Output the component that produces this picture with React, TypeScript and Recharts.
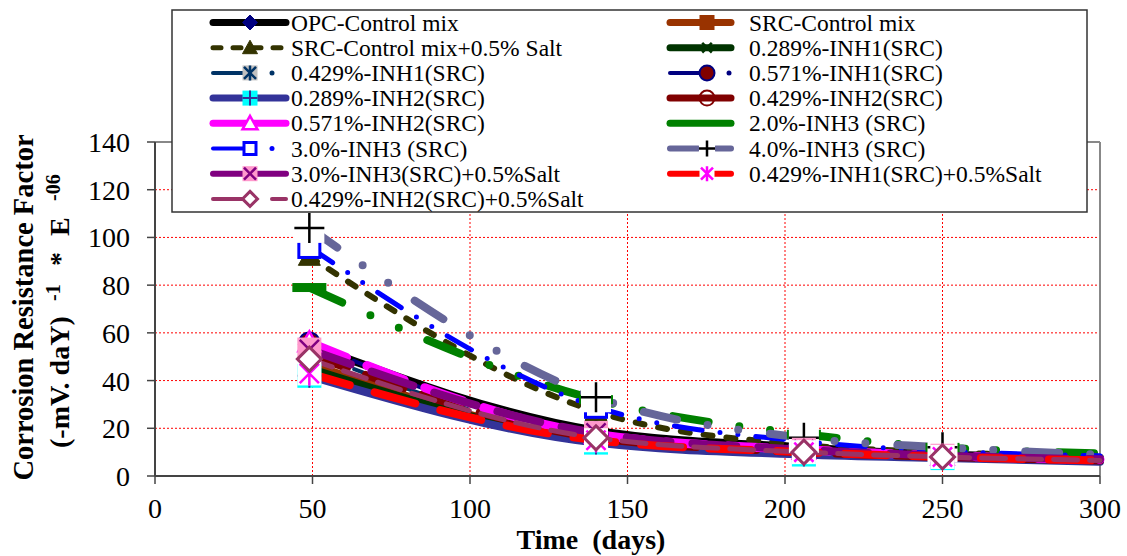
import React from 'react';
import { LineChart, Line, XAxis, YAxis, CartesianGrid, ReferenceLine } from 'recharts';

const FONT = '"Liberation Serif", "Times New Roman", serif';

// Sampling times (days); the last entry closes the curves at the axis end without a marker
const days = [49, 140, 206, 250, 300];
const xTicks = [0, 50, 100, 150, 200, 250, 300];
const yTicks = [0, 20, 40, 60, 80, 100, 120, 140];

// Corrosion resistance factor for each mix
const opcControl = [55, 19, 12, 9, 7.5];
const srcControl = [47, 15, 10, 8, 6.5];
const srcControlSalt = [92, 27, 13, 10, 8];
const inh1p289 = [45, 15, 10, 8, 6.5];
const inh1p429 = [52, 16, 10.5, 8.5, 7];
const inh1p571 = [56, 17, 11, 8.5, 7];
const inh2p289 = [42, 14, 9, 7.5, 6];
const inh2p429 = [51, 16, 10, 8, 6.5];
const inh2p571 = [56, 17.5, 11, 8.5, 7];
const inh3p20 = [79, 32, 17.5, 12, 9.5];
const inh3p30 = [96, 29, 14.5, 10.5, 8.5];
const inh3p40 = [104, 33, 16, 12, 9];
const inh3p30Salt = [53, 18, 11, 8.5, 7];
const inh1p429Salt = [43, 15, 10, 8, 6.5];
const inh2p429Salt = [49, 16, 10, 8, 6.5];

type LegendKind = 'solid' | 'dashdot' | 'dash' | 'gap' | 'dashes';

interface SeriesDef {
  key: string;
  name: string;
  values: number[];
  color: string;
  width: number;
  dash?: string;
  marker: string;
  size: number;
  legend: LegendKind;
  legendWidth: number;
}

const series: SeriesDef[] = [
  { key: 'opc', name: 'OPC-Control mix', values: opcControl, color: '#000000', width: 8, marker: 'diamondNavy', size: 22, legend: 'solid', legendWidth: 7 },
  { key: 'src', name: 'SRC-Control mix', values: srcControl, color: '#993300', width: 8, marker: 'squareBrown', size: 22, legend: 'solid', legendWidth: 7 },
  { key: 'srcSalt', name: 'SRC-Control mix+0.5% Salt', values: srcControlSalt, color: '#333300', width: 6, dash: '9 14', marker: 'triangleDark', size: 22, legend: 'dashes', legendWidth: 5 },
  { key: 'i1a', name: '0.289%-INH1(SRC)', values: inh1p289, color: '#003300', width: 8, marker: 'crossGreen', size: 20, legend: 'solid', legendWidth: 7 },
  { key: 'i1b', name: '0.429%-INH1(SRC)', values: inh1p429, color: '#003366', width: 4, dash: '24 12 0 12', marker: 'starSquare', size: 22, legend: 'dashdot', legendWidth: 4 },
  { key: 'i1c', name: '0.571%-INH1(SRC)', values: inh1p571, color: '#000080', width: 4, dash: '24 12 0 12', marker: 'circleRed', size: 20, legend: 'dashdot', legendWidth: 4 },
  { key: 'i2a', name: '0.289%-INH2(SRC)', values: inh2p289, color: '#333399', width: 8, marker: 'plusCyan', size: 24, legend: 'solid', legendWidth: 7 },
  { key: 'i2b', name: '0.429%-INH2(SRC)', values: inh2p429, color: '#800000', width: 8, dash: '40 20', marker: 'circleOpen', size: 20, legend: 'solid', legendWidth: 7 },
  { key: 'i2c', name: '0.571%-INH2(SRC)', values: inh2p571, color: '#ff00ff', width: 9, dash: '40 22', marker: 'triangleMagenta', size: 22, legend: 'solid', legendWidth: 7 },
  { key: 'i3a', name: '2.0%-INH3 (SRC)', values: inh3p20, color: '#008000', width: 8, dash: '36 31 0 31 0 31', marker: 'dashGreen', size: 34, legend: 'solid', legendWidth: 7 },
  { key: 'i3b', name: '3.0%-INH3 (SRC)', values: inh3p30, color: '#0000ff', width: 5, dash: '28 18 0 18 0 18', marker: 'squareOpen', size: 24, legend: 'dashdot', legendWidth: 4 },
  { key: 'i3c', name: '4.0%-INH3 (SRC)', values: inh3p40, color: '#666699', width: 8, dash: '34 31 0 31 0 32', marker: 'plusBlack', size: 30, legend: 'gap', legendWidth: 6 },
  { key: 'i3s', name: '3.0%-INH3(SRC)+0.5%Salt', values: inh3p30Salt, color: '#800080', width: 8, dash: '44 22', marker: 'xPink', size: 24, legend: 'solid', legendWidth: 6 },
  { key: 'i1s', name: '0.429%-INH1(SRC)+0.5%Salt', values: inh1p429Salt, color: '#ff0000', width: 8, dash: '42 26', marker: 'asterisk', size: 24, legend: 'solid', legendWidth: 6 },
  { key: 'i2s', name: '0.429%-INH2(SRC)+0.5%Salt', values: inh2p429Salt, color: '#993366', width: 5, dash: '24 12', marker: 'diamondOpen', size: 24, legend: 'dash', legendWidth: 4 },
];

const rows = days.map((d, i) => {
  const r: Record<string, number> = { day: d };
  series.forEach((s) => {
    r[s.key] = s.values[i];
  });
  return r;
});

function Marker({ kind, cx, cy, size }: { kind: string; cx: number; cy: number; size: number }) {
  const h = size / 2;
  const sq = (fill: string, stroke = 'none', sw = 0) => (
    <rect x={cx - h} y={cy - h} width={size} height={size} fill={fill} stroke={stroke} strokeWidth={sw} />
  );
  const diamond = `${cx},${cy - h} ${cx + h},${cy} ${cx},${cy + h} ${cx - h},${cy}`;
  const tri = `${cx},${cy - h} ${cx + h},${cy + h * 0.8} ${cx - h},${cy + h * 0.8}`;
  const k = h * 0.8;
  const xPath = `M${cx - k},${cy - k}L${cx + k},${cy + k}M${cx + k},${cy - k}L${cx - k},${cy + k}`;
  const plusPath = `M${cx - h},${cy}L${cx + h},${cy}M${cx},${cy - h}L${cx},${cy + h}`;
  switch (kind) {
    case 'diamondNavy':
      return <polygon points={diamond} fill="#000080" stroke="#000080" strokeWidth={1} />;
    case 'squareBrown':
      return sq('#993300');
    case 'triangleDark':
      return <polygon points={tri} fill="#333300" stroke="#333300" strokeWidth={1} />;
    case 'crossGreen':
      return <path d={xPath} stroke="#003300" strokeWidth={2.5} fill="none" />;
    case 'starSquare':
      return (
        <g>
          {sq('#c0c0c0')}
          <path d={`${xPath}M${cx},${cy - h}L${cx},${cy + h}`} stroke="#003366" strokeWidth={2.5} fill="none" />
        </g>
      );
    case 'circleRed':
      return <circle cx={cx} cy={cy} r={h} fill="#800000" stroke="#000080" strokeWidth={2} />;
    case 'plusCyan':
      return (
        <g>
          {sq('#00ffff')}
          <path d={plusPath} stroke="#333399" strokeWidth={2} fill="none" />
        </g>
      );
    case 'circleOpen':
      return <circle cx={cx} cy={cy} r={h} fill="none" stroke="#800000" strokeWidth={2} />;
    case 'triangleMagenta':
      return <polygon points={tri} fill="#ffffff" stroke="#ff00ff" strokeWidth={2.5} />;
    case 'dashGreen':
      return <rect x={cx - h} y={cy - 4.5} width={size} height={9} fill="#008000" />;
    case 'squareOpen':
      return <rect x={cx - h + 1.5} y={cy - h + 1.5} width={size - 3} height={size - 3} fill="#ffffff" stroke="#0000ff" strokeWidth={3} />;
    case 'plusBlack':
      return (
        <g>
          {sq('#ffffff')}
          <path d={plusPath} stroke="#000000" strokeWidth={2.5} fill="none" />
        </g>
      );
    case 'xPink':
      return (
        <g>
          {sq('#ff99cc')}
          <path d={xPath} stroke="#800080" strokeWidth={2.5} fill="none" />
        </g>
      );
    case 'asterisk':
      return (
        <g>
          {sq('#ffffff')}
          <path d={`${xPath}M${cx},${cy - h}L${cx},${cy + h}`} stroke="#ff00ff" strokeWidth={2.5} fill="none" />
        </g>
      );
    case 'diamondOpen':
      return <polygon points={diamond} fill="#ffffff" stroke="#993366" strokeWidth={3} />;
    default:
      return null;
  }
}

const lastIndex = days.length - 1;

const makeDot = (s: SeriesDef) => (p: any) => {
  if (p.cx == null || p.cy == null || p.index === lastIndex) return <g key={`${s.key}-${p.index}`} />;
  return (
    <g key={`${s.key}-${p.index}`}>
      <Marker kind={s.marker} cx={p.cx} cy={p.cy} size={s.size} />
    </g>
  );
};

// Legend geometry: two columns, rows ordered left-to-right
const LEG = {
  left: { start: 213, end: 286, mark: 250, text: 291 },
  right: { start: 670, end: 731, mark: 707, text: 749 },
};
const rowY = (r: number) => 22.5 + 25.2 * r;

function LegendIcon({ s, col, y }: { s: SeriesDef; col: 'left' | 'right'; y: number }) {
  const g = LEG[col];
  const lw = s.legendWidth;
  const line = (x1: number, x2: number, dash?: string) => (
    <line x1={x1} y1={y} x2={x2} y2={y} stroke={s.color} strokeWidth={lw} strokeLinecap="round" strokeDasharray={dash} />
  );
  let parts: React.ReactNode = null;
  if (s.legend === 'solid') parts = line(g.start, g.end);
  else if (s.legend === 'dashes') parts = line(g.start, g.end, '8 12');
  else if (s.legend === 'dashdot')
    parts = (
      <g>
        {line(g.start, g.mark)}
        <circle cx={g.mark + 22} cy={y} r={lw / 2 + 0.5} fill={s.color} />
      </g>
    );
  else if (s.legend === 'dash')
    parts = (
      <g>
        {line(g.start, g.mark)}
        {line(g.mark + 22, g.end)}
      </g>
    );
  else if (s.legend === 'gap')
    parts = (
      <g>
        {line(g.start, g.mark - 9)}
        {line(g.mark + 9, g.end)}
      </g>
    );
  const showMarker = s.marker !== 'dashGreen';
  const mSize = s.marker === 'plusBlack' ? 16 : s.marker === 'crossGreen' ? 12 : 15;
  return (
    <g>
      {parts}
      {showMarker && <Marker kind={s.marker} cx={g.mark} cy={y} size={mSize} />}
    </g>
  );
}

function LegendBox() {
  return (
    <svg width={1127} height={556} style={{ position: 'absolute', left: 0, top: 0, pointerEvents: 'none' }}>
      <rect x={172} y={10} width={915} height={202} fill="#ffffff" stroke="#333333" strokeWidth={1.5} />
      {series.map((s, i) => {
        const col = i % 2 === 0 ? 'left' : 'right';
        const r = Math.floor(i / 2);
        const y = rowY(r);
        return (
          <g key={s.key}>
            <LegendIcon s={s} col={col} y={y} />
            <text x={LEG[col].text} y={y + 8} fontFamily={FONT} fontSize={23.5} fill="#000000" style={{ whiteSpace: 'pre' }}>
              {s.name}
            </text>
          </g>
        );
      })}
    </svg>
  );
}

function AxisTitles() {
  return (
    <svg width={1127} height={556} style={{ position: 'absolute', left: 0, top: 0, pointerEvents: 'none' }}>
      <text x={591} y={549} textAnchor="middle" fontFamily={FONT} fontWeight="bold" fontSize={28} fill="#000" style={{ whiteSpace: 'pre' }}>
        {'Time  (days)'}
      </text>
      <text transform="translate(33,307.5) rotate(-90)" textAnchor="middle" fontFamily={FONT} fontWeight="bold" fontSize={28.5} fill="#000">
        Corrosion Resistance Factor
      </text>
      <text transform="translate(69,448) rotate(-90)" fontFamily={FONT} fontWeight="bold" fontSize={28} fill="#000">
        (-mV. daY)
      </text>
      <text transform="translate(60,301) rotate(-90)" fontFamily={FONT} fontWeight="bold" fontSize={20} fill="#000">
        -1
      </text>
      <text transform="translate(69,266) rotate(-90)" fontFamily={FONT} fontWeight="bold" fontSize={28} fill="#000">
        *
      </text>
      <text transform="translate(69,236) rotate(-90)" fontFamily={FONT} fontWeight="bold" fontSize={28} fill="#000">
        E
      </text>
      <text transform="translate(60,201) rotate(-90)" fontFamily={FONT} fontWeight="bold" fontSize={20} fill="#000">
        -06
      </text>
    </svg>
  );
}

export default function App() {
  return (
    <div style={{ position: 'absolute', left: 0, top: 0, width: 1127, height: 556, background: '#ffffff' }}>
      <LineChart width={1127} height={556} data={rows} margin={{ top: 142, right: 27, bottom: 0, left: 0 }}>
        <CartesianGrid stroke="#ff0000" strokeDasharray="2 2" strokeWidth={1} />
        <XAxis
          dataKey="day"
          type="number"
          domain={[0, 300]}
          ticks={xTicks}
          height={80}
          tickSize={8}
          tickMargin={14}
          interval={0}
          axisLine={{ stroke: '#444444', strokeWidth: 2 }}
          tickLine={{ stroke: '#444444', strokeWidth: 1.5 }}
          tick={{ fontSize: 28, fill: '#000000', fontFamily: FONT }}
        />
        <YAxis
          type="number"
          domain={[0, 140]}
          ticks={yTicks}
          width={155}
          tickSize={8}
          tickMargin={17}
          interval={0}
          axisLine={{ stroke: '#444444', strokeWidth: 2 }}
          tickLine={{ stroke: '#444444', strokeWidth: 1.5 }}
          tick={{ fontSize: 28, fill: '#000000', fontFamily: FONT }}
        />
        <ReferenceLine x={300} stroke="#888888" strokeWidth={2} />
        <ReferenceLine y={140} stroke="#888888" strokeWidth={2} />
        {series.map((s) => (
          <Line
            key={s.key}
            dataKey={s.key}
            name={s.name}
            type="monotone"
            stroke={s.color}
            strokeWidth={s.width}
            strokeDasharray={s.dash}
            strokeLinecap="round"
            strokeLinejoin="round"
            dot={makeDot(s)}
            activeDot={false}
            isAnimationActive={false}
          />
        ))}
      </LineChart>
      <LegendBox />
      <AxisTitles />
    </div>
  );
}
